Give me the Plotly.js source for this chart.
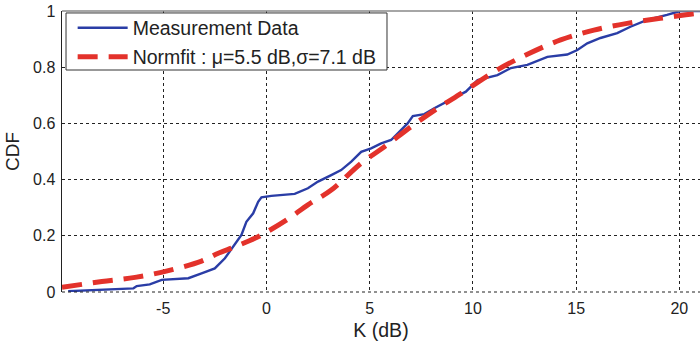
<!DOCTYPE html>
<html>
<head>
<meta charset="utf-8">
<script src="https://cdn.plot.ly/plotly-3.0.1.min.js"></script>
<style>html,body{margin:0;padding:0;background:#fff;}#chart{width:700px;height:344px;}</style>
</head>
<body>
<div id="chart"></div>
<script>
const measK = [-9.6, -6.44, -6.28, -5.65, -5.07, -3.78, -3.14, -2.50, -2.01, -1.69, -1.21, -0.97, -0.64, -0.40, -0.24, 0.24, 1.37, 2.01, 2.50, 3.14, 3.62, 4.11, 4.59, 5.07, 5.56, 6.04, 6.52, 6.84, 7.09, 7.65, 8.13, 8.94, 9.66, 10.23, 11.19, 11.84, 12.64, 13.61, 14.57, 15.06, 15.54, 16.18, 16.99, 17.63, 18.44, 19.40, 20.05, 21.0];
const measCDF = [0.003, 0.013, 0.021, 0.027, 0.043, 0.049, 0.066, 0.084, 0.12, 0.155, 0.203, 0.25, 0.28, 0.321, 0.337, 0.342, 0.349, 0.369, 0.393, 0.416, 0.434, 0.464, 0.499, 0.511, 0.529, 0.541, 0.577, 0.600, 0.626, 0.633, 0.654, 0.686, 0.713, 0.754, 0.772, 0.797, 0.808, 0.837, 0.845, 0.861, 0.885, 0.904, 0.921, 0.944, 0.968, 0.986, 1.0, 1.0];
// Normal fit curve
const fitK = [-9.9, -7.97, -6.36, -4.75, -3.14, -2.33, -1.53, -0.56, 0.0, 1.05, 2.01, 3.14, 4.59, 5.72, 7.0, 8.29, 9.5, 11.03, 12.64, 14.25, 15.86, 17.47, 19.08, 20.7, 21.0];
const fitCDF = [0.017, 0.037, 0.052, 0.076, 0.110, 0.138, 0.161, 0.191, 0.213, 0.26, 0.31, 0.363, 0.458, 0.517, 0.588, 0.654, 0.71, 0.784, 0.846, 0.897, 0.932, 0.956, 0.974, 0.99, 0.992];
const xTicks = [-5, 0, 5, 10, 15, 20];
const xTickLabels = ['-5', '0', '5', '10', '15', '20'];
const yTicks = [0, 0.2, 0.4, 0.6, 0.8, 1];
const yTickLabels = ['0', '0.2', '0.4', '0.6', '0.8', '1'];
const seriesNames = ['Measurement Data', 'Normfit : \u03bc=5.5 dB,\u03c3=7.1 dB'];

const font = 'Liberation Sans, Arial, sans-serif';
const legendFont = {family: font, size: 19.5, color: '#222'};
const traces = [
  {x: measK, y: measCDF, type: 'scatter', mode: 'lines', name: seriesNames[0],
   legend: 'legend', line: {color: '#2a3da6', width: 2.4}},
  {x: fitK, y: fitCDF, type: 'scatter', mode: 'lines', name: seriesNames[1],
   legend: 'legend2', line: {color: '#e3322b', width: 5, dash: '20px,11px', shape: 'spline'}}
];
const layout = {
  width: 700, height: 344,
  margin: {l: 62, r: 0, t: 11, b: 52},
  paper_bgcolor: '#fff', plot_bgcolor: '#fff',
  font: {family: font, color: '#222', size: 16},
  showlegend: true,
  legend: {x: 0.0167, y: 0.9395, xanchor: 'left', yanchor: 'middle',
           bgcolor: 'rgba(0,0,0,0)', borderwidth: 0, font: legendFont, itemwidth: 50},
  legend2: {x: 0.0167, y: 0.836, xanchor: 'left', yanchor: 'middle',
           bgcolor: 'rgba(0,0,0,0)', borderwidth: 0, font: legendFont, itemwidth: 50},
  xaxis: {range: [-9.9, 21], tickvals: xTicks, ticktext: xTickLabels,
          showgrid: true, gridcolor: '#222', griddash: 'dot', gridwidth: 1,
          zeroline: false, showline: false, ticks: '', ticklabelstandoff: 5,
          tickfont: {size: 16, color: '#222'},
          title: {text: 'K (dB)', font: {size: 19.5, color: '#222'}, standoff: 7}},
  yaxis: {range: [0, 1], tickvals: yTicks, ticktext: yTickLabels,
          showgrid: true, gridcolor: '#222', griddash: 'dot', gridwidth: 1,
          zeroline: false, showline: true, linecolor: '#222', linewidth: 1.5,
          ticks: '', ticklabelstandoff: 2, tickfont: {size: 16, color: '#222'},
          title: {text: 'CDF', font: {size: 19, color: '#222'}, standoff: 8}},
  shapes: [
    {type: 'line', xref: 'paper', yref: 'paper', x0: 0, x1: 1, y0: 1, y1: 1,
     line: {color: '#888', width: 1.5}},
    {type: 'line', xref: 'paper', yref: 'paper', x0: 0, x1: 1, y0: 0, y1: 0,
     line: {color: '#222', width: 1, dash: 'dot'}},
    {type: 'rect', xref: 'paper', yref: 'paper', x0: 0.0063, x1: 0.5094, y0: 0.790, y1: 0.993,
     layer: 'above', fillcolor: '#fff', line: {color: '#333', width: 1}}
  ]
};
Plotly.newPlot('chart', traces, layout, {displayModeBar: false, staticPlot: true});
</script>
</body>
</html>
